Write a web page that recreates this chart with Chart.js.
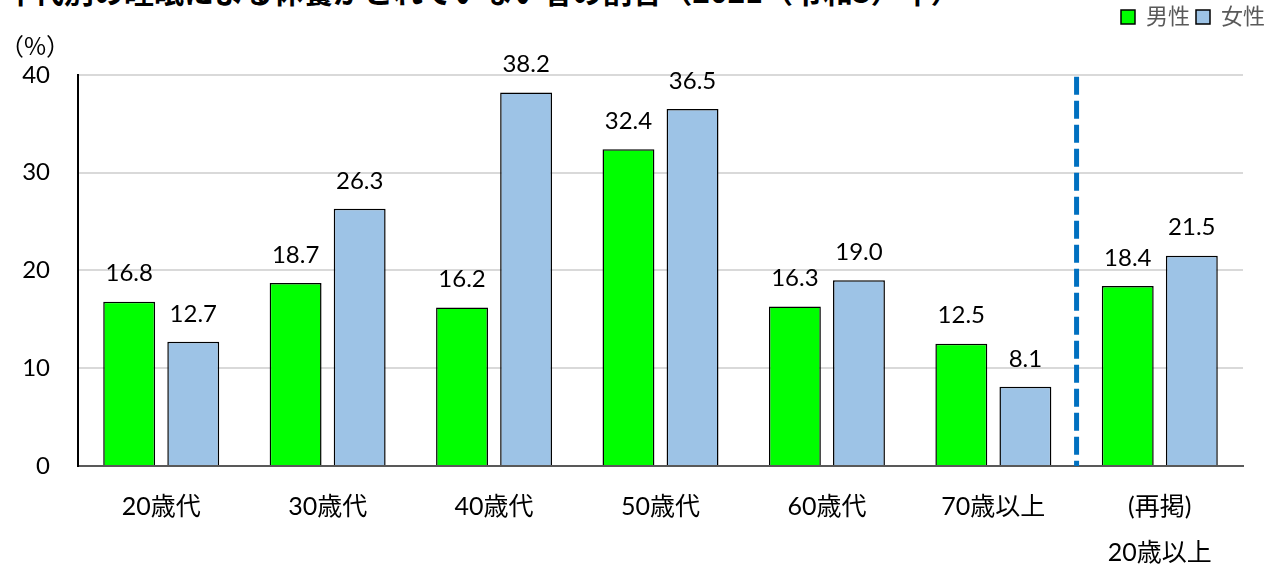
<!DOCTYPE html>
<html lang="ja">
<head>
<meta charset="utf-8">
<script src="https://cdn.jsdelivr.net/npm/chart.js@4"></script>
<style>
  html, body { margin: 0; padding: 0; background: #fff; overflow: hidden; }
  #wrap { position: relative; width: 1271px; height: 567px; overflow: hidden; }
  #title {
    position: absolute; left: 4px; top: -32px; white-space: nowrap;
    font: bold 30px "Noto Sans CJK JP", sans-serif; color: #000;
  }
  canvas { position: absolute; left: 0; top: 0; }
</style>
</head>
<body>
<div id="wrap">
  <div id="title">年代別の睡眠による休養がとれていない者の割合（2021（令和3）年）</div>
  <canvas id="sleepChart" width="1271" height="567"></canvas>
</div>
<script>
// categories and values (%)
const categories = ["20歳代", "30歳代", "40歳代", "50歳代", "60歳代", "70歳以上", ["(再掲)", "20歳以上"]];
const maleValues = [16.8, 18.7, 16.2, 32.4, 16.3, 12.5, 18.4];
const femaleValues = [12.7, 26.3, 38.2, 36.5, 19.0, 8.1, 21.5];
const yTicks = [0, 10, 20, 30, 40];

const FONT = "Lato, 'Noto Sans CJK JP', sans-serif";

// value labels above each bar
const valueLabels = {
  id: "valueLabels",
  afterDatasetsDraw(chart) {
    const ctx = chart.ctx;
    ctx.save();
    ctx.font = "24px " + FONT;
    ctx.fillStyle = "#000";
    ctx.textAlign = "center";
    ctx.textBaseline = "middle";
    chart.data.datasets.forEach((ds, i) => {
      chart.getDatasetMeta(i).data.forEach((bar, j) => {
        ctx.fillText(ds.data[j].toFixed(1), bar.x, bar.y - 28);
      });
    });
    ctx.restore();
  }
};

// dashed separator before the (再掲) group
const separator = {
  id: "separator",
  afterDatasetsDraw(chart) {
    const x = chart.scales.x;
    const px = (x.getPixelForValue(5) + x.getPixelForValue(6)) / 2;
    const ctx = chart.ctx;
    ctx.save();
    ctx.strokeStyle = "#0070C0";
    ctx.lineWidth = 5;
    ctx.setLineDash([18, 6]);
    ctx.beginPath();
    ctx.moveTo(px, chart.chartArea.top + 2);
    ctx.lineTo(px, chart.chartArea.bottom);
    ctx.stroke();
    ctx.restore();
  }
};

new Chart(document.getElementById("sleepChart"), {
  type: "bar",
  data: {
    labels: categories,
    datasets: [
      {
        label: "男性",
        data: maleValues,
        backgroundColor: "#00FF00",
        borderColor: "#000",
        borderWidth: 1.5,
        categoryPercentage: 0.77,
        barPercentage: 0.81
      },
      {
        label: "女性",
        data: femaleValues,
        backgroundColor: "#9DC3E6",
        borderColor: "#000",
        borderWidth: 1.5,
        categoryPercentage: 0.77,
        barPercentage: 0.81
      }
    ]
  },
  options: {
    responsive: false,
    animation: false,
    layout: { padding: 0 },
    plugins: {
      legend: {
        position: "top",
        align: "end",
        weight: 3000,
        labels: {
          boxWidth: 14,
          boxHeight: 14,
          padding: 6,
          color: "#595959",
          font: { size: 22, family: FONT }
        }
      },
      subtitle: {
        display: true,
        text: "（%）",
        align: "start",
        color: "#000",
        font: { size: 24, family: "'Noto Sans CJK JP', sans-serif", weight: "normal", lineHeight: 1.2 },
        padding: { top: -7, bottom: 15 }
      },
      tooltip: { enabled: false }
    },
    scales: {
      x: {
        grid: { display: false, drawTicks: false },
        border: { color: "#595959", width: 2 },
        ticks: {
          color: "#000",
          padding: 18,
          font: { size: 25, family: FONT, lineHeight: 1.84 }
        },
        afterFit(scale) { scale.height = 101; }
      },
      y: {
        min: 0,
        max: 40,
        afterBuildTicks(scale) { scale.ticks = yTicks.map(v => ({ value: v })); },
        grid: { color: "#D9D9D9", lineWidth: 2, drawTicks: false },
        border: { color: "#000", width: 2 },
        ticks: {
          color: "#000",
          padding: 28,
          font: { size: 24, family: FONT }
        },
        afterFit(scale) { scale.width = 78; }
      },
      // empty spacer on the right so the plot ends before the canvas edge
      spacer: {
        type: "linear",
        position: "right",
        grid: { display: false, drawTicks: false },
        border: { display: false },
        ticks: { display: false },
        afterFit(scale) { scale.width = 28; }
      }
    }
  },
  plugins: [valueLabels, separator]
});
</script>
</body>
</html>
